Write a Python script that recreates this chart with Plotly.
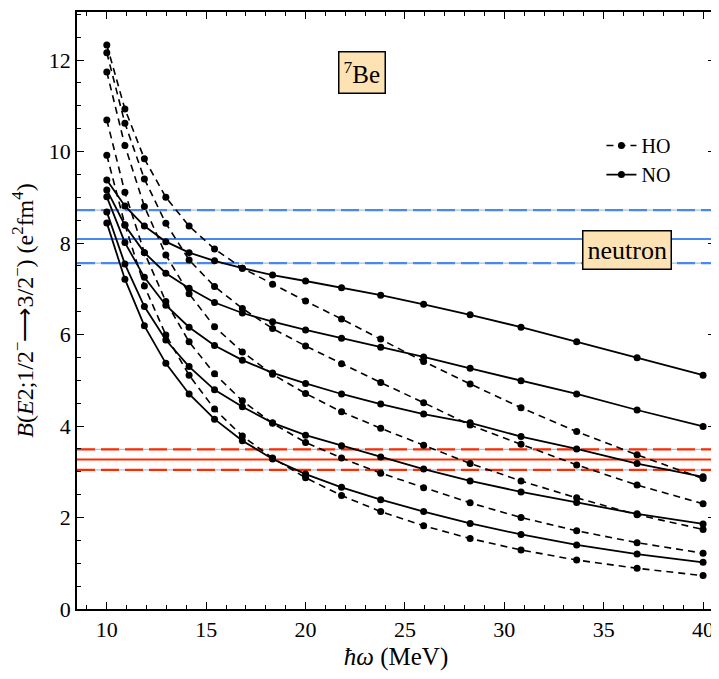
import plotly.graph_objects as go

# hbar*omega grid (MeV)
hw = [10, 10.91, 11.89, 12.97, 14.14, 15.42, 16.82, 18.34, 20.0, 21.81, 23.78,
      25.94, 28.28, 30.84, 33.64, 36.68, 40.0]

# HO basis results (dashed)
ho_1 = [12.33, 10.93, 9.84, 9.00, 8.37, 7.87, 7.45, 7.10, 6.73, 6.34, 5.90, 5.41, 4.92, 4.40, 3.88, 3.37, 2.85]
ho_2 = [12.16, 10.62, 9.40, 8.43, 7.63, 7.05, 6.57, 6.13, 5.75, 5.36, 4.95, 4.51, 4.02, 3.60, 3.15, 2.71, 2.30]
ho_3 = [11.74, 10.13, 8.80, 7.74, 6.89, 6.17, 5.62, 5.13, 4.71, 4.31, 3.95, 3.58, 3.18, 2.80, 2.43, 2.06, 1.74]
ho_4 = [10.69, 9.11, 7.79, 6.72, 5.84, 5.14, 4.55, 4.06, 3.64, 3.30, 2.97, 2.65, 2.32, 2.00, 1.71, 1.45, 1.22]
ho_5 = [9.92, 8.40, 7.06, 5.99, 5.11, 4.37, 3.78, 3.30, 2.87, 2.48, 2.13, 1.82, 1.54, 1.29, 1.07, 0.89, 0.73]

# NO basis results (solid)
no_1 = [9.38, 8.81, 8.37, 8.03, 7.79, 7.61, 7.45, 7.30, 7.17, 7.02, 6.86, 6.66, 6.43, 6.16, 5.84, 5.49, 5.11]
no_2 = [9.16, 8.39, 7.79, 7.34, 7.01, 6.70, 6.47, 6.28, 6.10, 5.92, 5.72, 5.51, 5.26, 4.99, 4.70, 4.35, 3.99]
no_3 = [9.01, 8.01, 7.25, 6.64, 6.16, 5.76, 5.44, 5.16, 4.93, 4.70, 4.48, 4.26, 4.07, 3.77, 3.50, 3.18, 2.89]
no_4 = [8.68, 7.54, 6.61, 5.88, 5.30, 4.79, 4.42, 4.07, 3.80, 3.57, 3.32, 3.06, 2.80, 2.56, 2.33, 2.08, 1.86]
no_5 = [8.44, 7.21, 6.19, 5.37, 4.70, 4.15, 3.68, 3.28, 2.95, 2.66, 2.39, 2.13, 1.87, 1.63, 1.40, 1.20, 1.02]

ho_series = [ho_1, ho_2, ho_3, ho_4, ho_5]
no_series = [no_1, no_2, no_3, no_4, no_5]

# reference bands: (value, dashed?)
blue_lines = [8.72, 8.09, 7.56]
blue_dashed = [True, False, True]
red_lines = [3.49, 3.27, 3.04]
red_dashed = [True, False, True]

x_ticks = [10, 15, 20, 25, 30, 35, 40]
y_ticks = [0, 2, 4, 6, 8, 10, 12]

BLUE = "#4a88f0"
RED = "#ff2a00"
GAP = "#a9c0d8"
FONT = "Liberation Serif"

fig = go.Figure()

xline = [8.5, 40.6]
for vals, dashed, col in [(blue_lines, blue_dashed, BLUE), (red_lines, red_dashed, RED)]:
    for v, d in zip(vals, dashed):
        if d:
            fig.add_trace(go.Scatter(x=xline, y=[v, v], mode="lines",
                                     line=dict(color=GAP, width=1.2),
                                     showlegend=False, hoverinfo="skip"))
            fig.add_trace(go.Scatter(x=xline, y=[v, v], mode="lines",
                                     line=dict(color=col, width=2.2, dash="18px,6px"),
                                     showlegend=False, hoverinfo="skip"))
        else:
            fig.add_trace(go.Scatter(x=xline, y=[v, v], mode="lines",
                                     line=dict(color=col, width=2),
                                     showlegend=False, hoverinfo="skip"))

for i, s in enumerate(ho_series):
    fig.add_trace(go.Scatter(x=hw, y=s, mode="lines+markers",
                             line=dict(color="black", width=1.6, dash="7px,5px"),
                             marker=dict(color="black", size=7),
                             name="HO", legendgroup="HO", showlegend=(i == 0)))
for i, s in enumerate(no_series):
    fig.add_trace(go.Scatter(x=hw, y=s, mode="lines+markers",
                             line=dict(color="black", width=1.8),
                             marker=dict(color="black", size=7),
                             name="NO", legendgroup="NO", showlegend=(i == 0)))

fig.add_annotation(x=22.86, y=11.72, xref="x", yref="y", showarrow=False,
                   text="<sup>7</sup>Be", font=dict(family=FONT, size=25, color="black"),
                   bgcolor="#fde2b4", bordercolor="black", borderwidth=1.5, borderpad=4)
fig.add_annotation(x=36.15, y=7.85, xref="x", yref="y", showarrow=False,
                   text="neutron", font=dict(family=FONT, size=26, color="black"),
                   bgcolor="#fde2b4", bordercolor="black", borderwidth=1.5, borderpad=4)

axis_common = dict(showline=True, linecolor="black", linewidth=1.5, mirror="ticks",
                   ticks="inside", ticklen=7, tickwidth=1.2, tickcolor="black",
                   showgrid=False, zeroline=False, automargin=False,
                   tickfont=dict(family=FONT, size=22, color="black"))

fig.update_xaxes(range=[8.5, 40.6], tickvals=x_ticks,
                 minor=dict(dtick=1, ticks="inside", ticklen=4, tickcolor="black"),
                 title=dict(text="<i>ħω</i> (MeV)", font=dict(family=FONT, size=25, color="black"),
                            standoff=6),
                 **axis_common)
fig.update_yaxes(range=[0, 13.05], tickvals=y_ticks,
                 minor=dict(dtick=0.5, ticks="inside", ticklen=4, tickcolor="black"),
                 title=dict(text="<i>B</i>(<i>E</i>2;1/2<sup>−</sup>⟶3/2<sup>−</sup>) (e<sup>2</sup>fm<sup>4</sup>)",
                            font=dict(family=FONT, size=24, color="black"), standoff=8),
                 **axis_common)

# page body has an 8px margin, so the figure is sized to fit the 719x679 window
fig.update_layout(width=711, height=671,
                  margin=dict(l=69, r=4, t=4, b=70),
                  plot_bgcolor="white", paper_bgcolor="white",
                  legend=dict(x=0.822, y=0.809, xanchor="left", yanchor="top",
                              bgcolor="rgba(0,0,0,0)",
                              font=dict(family=FONT, size=20, color="black"),
                              tracegroupgap=0, itemwidth=30),
                  showlegend=True)

fig.write_html("out.html")
